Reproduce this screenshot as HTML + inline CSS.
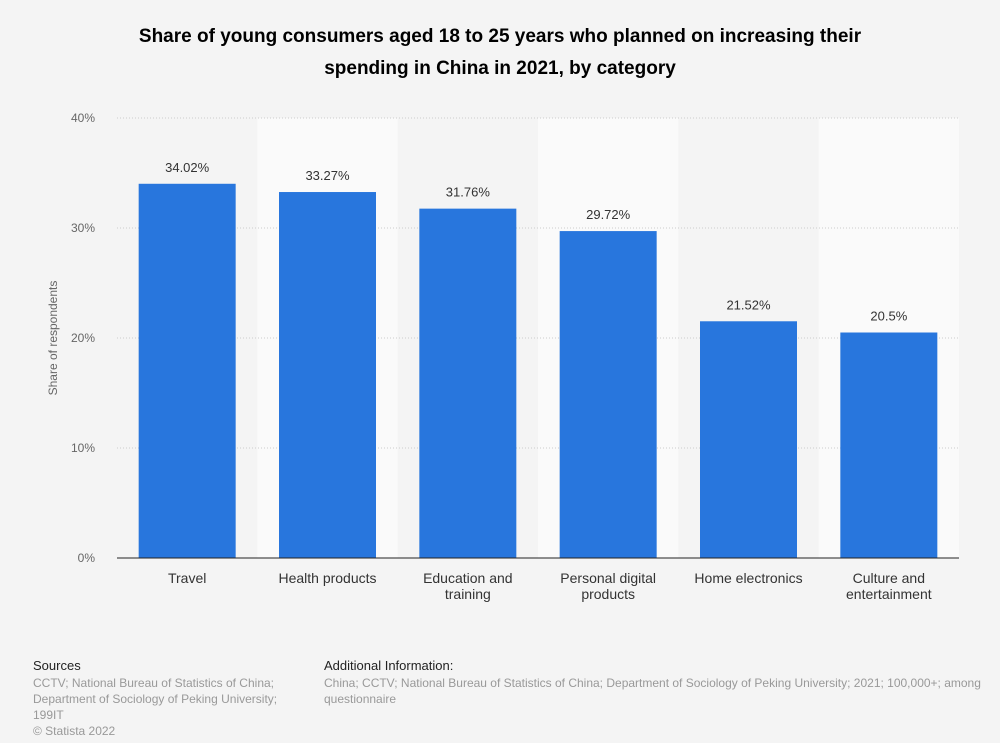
<!DOCTYPE html>
<html><head><meta charset="utf-8"><style>
body{margin:0;background:#f4f4f4;font-family:"Liberation Sans",sans-serif;}
#wrap{position:relative;width:1000px;height:743px;overflow:hidden;}
</style></head><body>
<div id="wrap">
<svg id="chart" width="1000" height="743" xmlns="http://www.w3.org/2000/svg">
<text x="500" y="42" text-anchor="middle" font-size="19" font-weight="bold" fill="#000">Share of young consumers aged 18 to 25 years who planned on increasing their</text>
<text x="500" y="74" text-anchor="middle" font-size="19" font-weight="bold" fill="#000">spending in China in 2021, by category</text>
<text transform="translate(57,338) rotate(-90)" text-anchor="middle" font-size="12" fill="#666">Share of respondents</text>
<g id="bands"></g><g id="grid"></g><g id="bars"></g><g id="xlabels"></g>
<line x1="117" y1="558" x2="959" y2="558" stroke="#222" stroke-width="1"/>
<text x="33" y="670" font-size="13" fill="#222">Sources</text>
<g font-size="12" fill="#999">
<text x="33" y="687">CCTV; National Bureau of Statistics of China;</text>
<text x="33" y="703">Department of Sociology of Peking University;</text>
<text x="33" y="719">199IT</text>
<text x="33" y="735">© Statista 2022</text></g>
<text x="324" y="670" font-size="13" fill="#222">Additional Information:</text>
<g font-size="12" fill="#999">
<text x="324" y="687">China; CCTV; National Bureau of Statistics of China; Department of Sociology of Peking University; 2021; 100,000+; among</text>
<text x="324" y="703">questionnaire</text></g>
</svg></div>
<script>
const categories=[["Travel"],["Health products"],["Education and","training"],["Personal digital","products"],["Home electronics"],["Culture and","entertainment"]];
const values=[34.02,33.27,31.76,29.72,21.52,20.5];
const valueLabels=["34.02%","33.27%","31.76%","29.72%","21.52%","20.5%"];
const ticks=[0,10,20,30,40];
const tickLabels=["0%","10%","20%","30%","40%"];
const NS="http://www.w3.org/2000/svg";
const x0=117,x1=959,yTop=118,yBot=558,ymax=40;
const bw=(x1-x0)/categories.length;
const y=v=>yBot-(v/ymax)*(yBot-yTop);
const xc=i=>x0+bw*(i+0.5);
function mk(t,a,p){const e=document.createElementNS(NS,t);for(const k in a)e.setAttribute(k,a[k]);p.appendChild(e);return e;}
const bands=document.getElementById('bands'),grid=document.getElementById('grid'),bars=document.getElementById('bars'),xl=document.getElementById('xlabels');
categories.forEach((c,i)=>{if(i%2==1){const r=mk('rect',{x:x0+bw*i,y:yTop,width:bw,height:yBot-yTop,fill:'#fafafa'},bands);

}});
ticks.forEach((t,i)=>{if(t>0){const l=mk('line',{x1:x0,x2:x1,y1:y(t),y2:y(t),stroke:'#ccc','stroke-dasharray':'1,2'},grid);

}
const tx=mk('text',{x:95,y:y(t)+4,'text-anchor':'end','font-size':12,fill:'#666'},grid);tx.textContent=tickLabels[i];

});
values.forEach((v,i)=>{const w=97;const r=mk('rect',{x:xc(i)-w/2,y:y(v),width:w,height:yBot-y(v),fill:'#2876dd'},bars);


const t=mk('text',{x:xc(i),y:y(v)-12,'text-anchor':'middle','font-size':13,fill:'#333'},bars);t.textContent=valueLabels[i];


categories[i].forEach((ln,j)=>{const c=mk('text',{x:xc(i),y:583+j*16,'text-anchor':'middle','font-size':14,fill:'#333'},xl);c.textContent=ln;

});});
</script>
</body></html>
